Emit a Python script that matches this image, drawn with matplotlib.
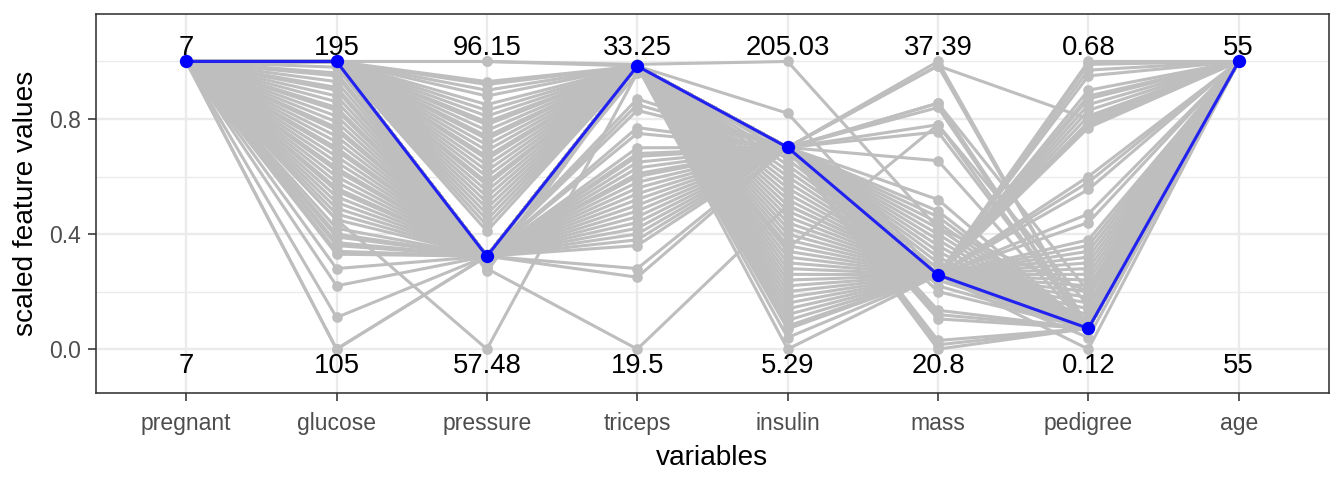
import matplotlib
matplotlib.use("Agg")
import matplotlib.pyplot as plt
from matplotlib.ticker import FixedLocator

plt.rcParams["font.family"] = ["Liberation Sans Narrow", "Liberation Sans", "DejaVu Sans"]

# ---- data (scaled 0..1) ----
variables = ["pregnant", "glucose", "pressure", "triceps", "insulin", "mass", "pedigree", "age"]
labels_max = ["7", "195", "96.15", "33.25", "205.03", "37.39", "0.68", "55"]
labels_min = ["7", "105", "57.48", "19.5", "5.29", "20.8", "0.12", "55"]

# highlighted observation
selected = [1.0, 1.0, 0.323, 0.984, 0.701, 0.258, 0.072, 1.0]

# values taken by the other observations on one variable (rest as selected)
glucose_alt = [0.98, 0.96, 0.95, 0.93, 0.91, 0.90, 0.88, 0.86, 0.84, 0.83, 0.81, 0.79,
               0.77, 0.76, 0.74, 0.72, 0.70, 0.69, 0.67, 0.65, 0.63, 0.62, 0.60, 0.58,
               0.56, 0.55, 0.53, 0.51, 0.49, 0.47, 0.45, 0.42, 0.40, 0.39, 0.37, 0.36,
               0.34, 0.33, 0.28, 0.22, 0.11, 0.0]
pressure_alt = [1.0, 0.93, 0.92, 0.90, 0.88, 0.85, 0.83, 0.81, 0.79, 0.78, 0.76, 0.74,
                0.73, 0.71, 0.69, 0.67, 0.66, 0.64, 0.62, 0.60, 0.58, 0.57, 0.55, 0.53,
                0.51, 0.49, 0.47, 0.45, 0.43, 0.41, 0.29, 0.27]
triceps_alt = [0.96, 0.87, 0.85, 0.83, 0.77, 0.75, 0.70, 0.68, 0.67, 0.65, 0.63, 0.61,
               0.60, 0.58, 0.56, 0.54, 0.52, 0.50, 0.48, 0.46, 0.44, 0.42, 0.40, 0.38,
               0.36, 0.28, 0.25]
insulin_alt = [0.82, 0.68, 0.66, 0.64, 0.62, 0.60, 0.58, 0.56, 0.54, 0.52, 0.50, 0.48,
               0.46, 0.44, 0.42, 0.40, 0.38, 0.36, 0.34, 0.32, 0.30, 0.28, 0.26, 0.24,
               0.22, 0.20, 0.18, 0.16, 0.14, 0.12, 0.10, 0.08, 0.07, 0.04, 0.0]
mass_alt = [1.0, 0.985, 0.855, 0.84, 0.78, 0.755, 0.655, 0.52, 0.48, 0.46, 0.44, 0.42,
            0.40, 0.38, 0.36, 0.34, 0.32, 0.30, 0.28, 0.24, 0.22, 0.20, 0.135, 0.12,
            0.105, 0.03, 0.015, 0.0]
pedigree_alt = [1.0, 0.99, 0.97, 0.95, 0.90, 0.88, 0.87, 0.85, 0.83, 0.81, 0.79, 0.78,
                0.77, 0.60, 0.58, 0.555, 0.47, 0.44, 0.38, 0.36, 0.34, 0.32, 0.30, 0.28,
                0.26, 0.24, 0.22, 0.20, 0.18, 0.16, 0.14, 0.12, 0.10, 0.09, 0.04, 0.0]

# observations that differ on several variables
mixed_rows = [
    [1.0, 0.45, 0.0, 0.96, 0.701, 0.258, 0.072, 1.0],
    [1.0, 1.0, 0.28, 0.0, 0.50, 0.258, 0.072, 1.0],
    [1.0, 1.0, 1.0, 0.99, 1.0, 0.42, 0.20, 1.0],
    [1.0, 1.0, 0.323, 0.984, 0.701, 0.985, 0.80, 1.0],
    [1.0, 1.0, 0.323, 0.984, 0.701, 0.855, 0.20, 1.0],
    [1.0, 1.0, 0.323, 0.984, 0.35, 0.78, 0.15, 1.0],
    [1.0, 0.0, 0.323, 0.984, 0.701, 0.258, 0.072, 1.0],
]

alts = {1: glucose_alt, 2: pressure_alt, 3: triceps_alt, 4: insulin_alt,
        5: mass_alt, 6: pedigree_alt}
rows = []
for j, vals in alts.items():
    for v in vals:
        r = list(selected)
        r[j] = v
        rows.append(r)
rows += mixed_rows

GREY = "#BEBEBE"
x = list(range(1, len(variables) + 1))

fig, ax = plt.subplots(figsize=(7, 2.5), dpi=192)
fig.subplots_adjust(left=0.0714, right=0.9888, top=0.9708, bottom=0.181)

for r in rows:
    ax.plot(x, r, color=GREY, linewidth=1.15, zorder=2)
for r in rows:
    ax.plot(x, r, linestyle="none", marker="o", markersize=4.0, color=GREY,
            markeredgewidth=0, zorder=3)
ax.plot(x, selected, color="#2121F0", linewidth=1.15, zorder=4)
ax.plot(x, selected, linestyle="none", marker="o", markersize=5.0, color="#0000FF",
        markeredgewidth=0, zorder=5)

for xi, hi, lo in zip(x, labels_max, labels_min):
    ax.text(xi, 1.048, hi, ha="center", va="center", fontsize=10.3, color="black", zorder=6)
    ax.text(xi, -0.058, lo, ha="center", va="center", fontsize=10.3, color="black", zorder=6)

ax.set_xlim(0.4, 8.6)
ax.set_ylim(-0.153, 1.165)
ax.set_xticks(x)
ax.set_xticklabels(variables)
ax.set_yticks([0.0, 0.4, 0.8])
ax.set_yticklabels(["0.0", "0.4", "0.8"])
ax.yaxis.set_minor_locator(FixedLocator([0.2, 0.6, 1.0]))
ax.tick_params(axis="both", which="major", labelsize=8.6, labelcolor="#4D4D4D",
               color="#333333", length=3, width=0.6)
ax.tick_params(axis="x", which="major", pad=4)
ax.tick_params(axis="y", which="major", pad=2.5)
ax.tick_params(axis="y", which="minor", length=0)

ax.grid(which="major", color="#EBEBEB", linewidth=0.9, zorder=0)
ax.grid(which="minor", axis="y", color="#EBEBEB", linewidth=0.5, zorder=0)
ax.set_axisbelow(True)
for s in ax.spines.values():
    s.set_color("#333333")
    s.set_linewidth(0.6)

ax.set_xlabel("variables", fontsize=10.5, labelpad=4)
ax.set_ylabel("scaled feature values", fontsize=10.5, labelpad=4)

fig.savefig("out.png", dpi=192, facecolor="white")
